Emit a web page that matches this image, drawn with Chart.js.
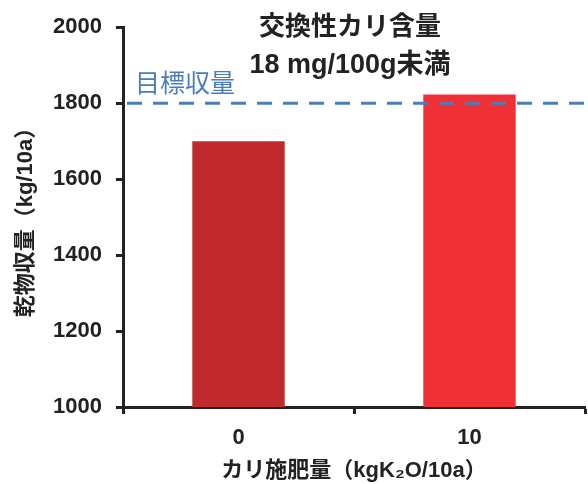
<!DOCTYPE html>
<html>
<head>
<meta charset="utf-8">
<script src="https://cdn.jsdelivr.net/npm/chart.js@4"></script>
<style>
  html, body { margin: 0; padding: 0; background: #fff; }
  #wrap { width: 588px; height: 484px; }
</style>
</head>
<body>
<div id="wrap"><canvas id="yieldChart" width="588" height="484"></canvas></div>
<script>
// データ
const categories = ['0', '10'];
const yieldValues = [1700, 1823];
const barColors = ['#c0292d', '#ef3035'];
const targetYield = 1800;
const targetLabel = '目標収量';
const titleLines = ['交換性カリ含量', '18 mg/100g未満'];
const yTicks = [1000, 1200, 1400, 1600, 1800, 2000];

const FONT = "'Liberation Sans', 'Noto Sans CJK JP', sans-serif";
const INK = '#222222';

// 目標線と注記
const targetPlugin = {
    id: 'targetLine',
    afterDatasetsDraw(chart) {
        const ctx = chart.ctx;
        const area = chart.chartArea;
        const y = chart.scales.y.getPixelForValue(targetYield);
        const xMid = (chart.scales.x.getPixelForValue(0) + chart.scales.x.getPixelForValue(1)) / 2;

        ctx.save();
        ctx.strokeStyle = '#4a7ebb';
        ctx.lineWidth = 3;
        ctx.setLineDash([15, 11]);
        ctx.beginPath();
        ctx.moveTo(area.left + 4, y);
        ctx.lineTo(chart.width, y);
        ctx.stroke();
        ctx.setLineDash([]);

        ctx.fillStyle = '#4a7ebb';
        ctx.font = "25px 'Noto Sans CJK JP', sans-serif";
        ctx.textAlign = 'left';
        ctx.textBaseline = 'middle';
        ctx.fillText(targetLabel, area.left + 12, y - 21);

        ctx.fillStyle = INK;
        ctx.font = 'bold 26px ' + FONT;
        ctx.textAlign = 'center';
        ctx.fillText(titleLines[0], xMid - 4, 28);
        ctx.font = 'bold 27px ' + FONT;
        ctx.fillText(titleLines[1], xMid - 4, 66);
        ctx.restore();
    }
};

const ctx = document.getElementById('yieldChart').getContext('2d');
new Chart(ctx, {
    type: 'bar',
    data: {
        labels: categories,
        datasets: [{
            data: yieldValues,
            backgroundColor: barColors,
            barPercentage: 0.4,
            categoryPercentage: 1.0
        }]
    },
    options: {
        responsive: false,
        animation: false,
        layout: { padding: { top: 20, right: 3, left: 0, bottom: 0 } },
        plugins: {
            legend: { display: false },
            tooltip: { enabled: false }
        },
        scales: {
            x: {
                afterFit: scale => { scale.height = 77; },
                grid: {
                    offset: true,
                    drawOnChartArea: false,
                    tickLength: 7,
                    tickWidth: 3,
                    tickColor: INK
                },
                border: { color: INK, width: 3 },
                ticks: {
                    color: INK,
                    padding: 11,
                    font: { family: FONT, size: 22, weight: 'bold' }
                },
                title: {
                    display: true,
                    text: 'カリ施肥量（kgK₂O/10a）',
                    color: INK,
                    padding: { top: 4, bottom: 0 },
                    font: { family: FONT, size: 22, weight: 'bold' }
                }
            },
            y: {
                min: 1000,
                max: 2000,
                afterFit: scale => { scale.width = 123; },
                afterBuildTicks: scale => { scale.ticks = yTicks.map(v => ({ value: v })); },
                grid: {
                    drawOnChartArea: false,
                    tickLength: 7,
                    tickWidth: 3,
                    tickColor: INK
                },
                border: { color: INK, width: 3 },
                ticks: {
                    color: INK,
                    padding: 14,
                    callback: v => String(v),
                    font: { family: FONT, size: 22, weight: 'bold' }
                },
                title: {
                    display: true,
                    text: '乾物収量（kg/10a）',
                    color: INK,
                    padding: { top: 13, bottom: 4 },
                    font: { family: FONT, size: 22, weight: 'bold' }
                }
            }
        }
    },
    plugins: [targetPlugin]
});
</script>
</body>
</html>
